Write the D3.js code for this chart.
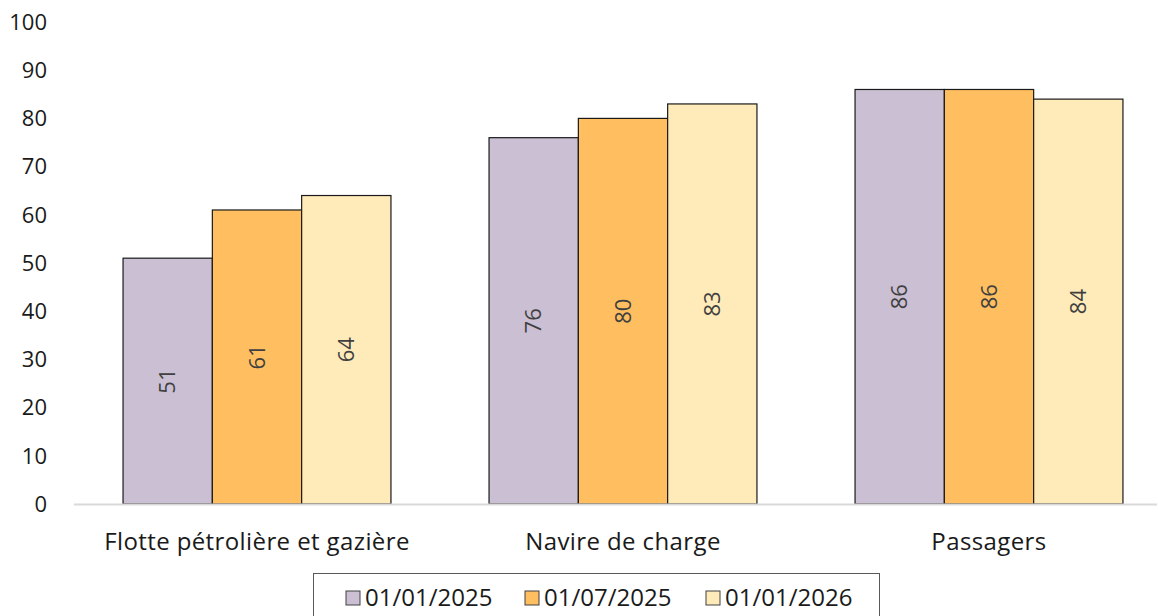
<!DOCTYPE html>
<html>
<head>
<meta charset="utf-8">
<script src="https://cdn.jsdelivr.net/npm/d3@7"></script>
<style>
  body { margin: 0; background: #fff; }
  svg text { font-family: "Open Sans", "Noto Sans", sans-serif; }
</style>
</head>
<body>
<div id="chart"></div>
<script>
const categories = ['Flotte pétrolière et gazière', 'Navire de charge', 'Passagers'];
const seriesNames = ['01/01/2025', '01/07/2025', '01/01/2026'];
const seriesColors = ['#cbbfd3', '#ffbe5f', '#ffebb9'];
const values2025a = [51, 76, 86];
const values2025b = [61, 80, 86];
const values2026 = [64, 83, 84];
const yTicks = [0, 10, 20, 30, 40, 50, 60, 70, 80, 90, 100];

const series = [values2025a, values2025b, values2026];

const width = 1158, height = 616;
const svg = d3.select('#chart').append('svg')
    .attr('width', width)
    .attr('height', height);

const y = d3.scaleLinear().domain([0, 100]).range([504, 22]);
const x = d3.scaleBand().domain(categories).range([74, 1172])
    .paddingInner(0.268).paddingOuter(0.134);
const xs = d3.scaleBand().domain(d3.range(series.length)).range([0, x.bandwidth()]);

// y tick labels
svg.append('g').selectAll('text')
    .data(yTicks)
    .enter().append('text')
    .attr('x', 47)
    .attr('y', d => y(d))
    .attr('dy', '0.35em')
    .attr('text-anchor', 'end')
    .attr('font-size', 22)
    .attr('fill', '#1a1a1a')
    .text(d => d);

// bars
series.forEach((vals, s) => {
    let g = svg.append('g');
    g.selectAll('rect')
        .data(vals)
        .enter().append('rect')
        .attr('x', (d, i) => x(categories[i]) + xs(s))
        .attr('y', d => y(d))
        .attr('width', xs.bandwidth())
        .attr('height', d => y(0) - y(d))
        .attr('fill', seriesColors[s])
        .attr('stroke', '#1a1a1a')
        .attr('stroke-width', 1.2);

    g.selectAll('text')
        .data(vals)
        .enter().append('text')
        .attr('transform', (d, i) => {
            let cx = x(categories[i]) + xs(s) + xs.bandwidth() / 2;
            let cy = y(d / 2);
            return `translate(${cx},${cy}) rotate(-90)`;
        })
        .attr('text-anchor', 'middle')
        .attr('dy', '0.35em')
        .attr('font-size', 22)
        .attr('fill', '#404040')
        .text(d => d);
});

// x axis line
svg.append('line')
    .attr('x1', 74).attr('x2', 1157)
    .attr('y1', y(0) + 0.5).attr('y2', y(0) + 0.5)
    .attr('stroke', '#d9d9d9')
    .attr('stroke-width', 2);

// category labels
svg.append('g').selectAll('text')
    .data(categories)
    .enter().append('text')
    .attr('x', d => x(d) + x.bandwidth() / 2)
    .attr('y', 550)
    .attr('text-anchor', 'middle')
    .attr('font-size', 24)
    .attr('letter-spacing', 0.4)
    .attr('fill', '#1a1a1a')
    .text(d => d);

// legend
svg.append('rect')
    .attr('x', 313.5).attr('y', 573.5)
    .attr('width', 566).attr('height', 60)
    .attr('fill', 'none')
    .attr('stroke', '#595959')
    .attr('stroke-width', 1);

const legendX = [346, 525, 706];
const legend = svg.append('g').selectAll('g')
    .data(seriesNames)
    .enter().append('g')
    .attr('transform', (d, i) => `translate(${legendX[i]},598)`);

legend.append('rect')
    .attr('x', 0).attr('y', -7)
    .attr('width', 14).attr('height', 14)
    .attr('fill', (d, i) => seriesColors[i])
    .attr('stroke', '#404040')
    .attr('stroke-width', 1);

legend.append('text')
    .attr('x', 19)
    .attr('dy', '0.35em')
    .attr('font-size', 24)
    .attr('fill', '#1a1a1a')
    .text(d => d);
</script>
</body>
</html>
